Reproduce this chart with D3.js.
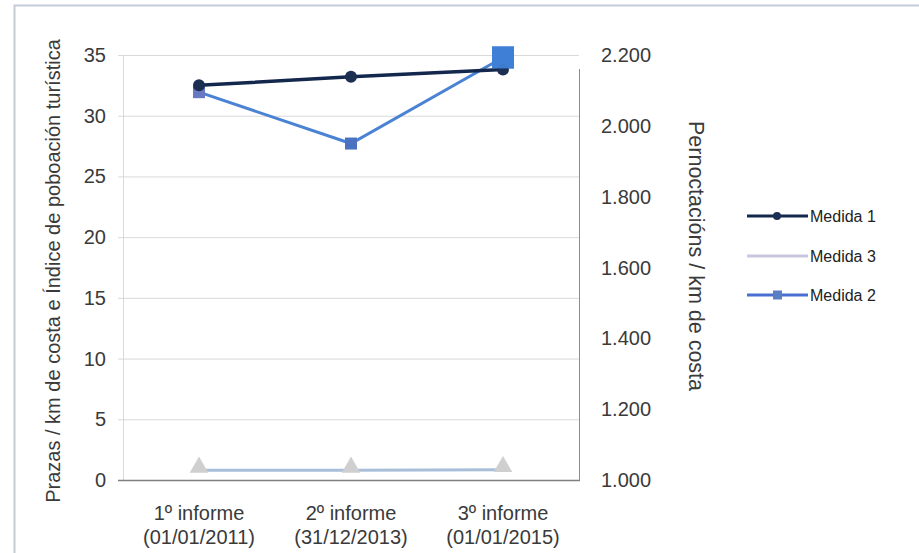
<!DOCTYPE html>
<html><head><meta charset="utf-8">
<script src="https://cdn.jsdelivr.net/npm/d3@7"></script>
<style>body{margin:0;background:#fff;}svg{display:block;font-family:"Liberation Sans",Arial,sans-serif;}</style>
</head><body>
<svg id="c" width="919" height="553"></svg>
<script>
const categories = [["1º informe","(01/01/2011)"],["2º informe","(31/12/2013)"],["3º informe","(01/01/2015)"]];
const medida1 = [32.5, 33.2, 33.8];      // left axis
const medida3 = [0.8, 0.8, 0.85];        // left axis
const medida2 = [2095, 1950, 2193];      // right axis
const leftTicks = [0,5,10,15,20,25,30,35];
const rightTicks = [1000,1200,1400,1600,1800,2000,2200];
const legendItems = ["Medida 1","Medida 3","Medida 2"];

const svg = d3.select("#c");
const m = {l:123, r:579, t:55, b:480};
// outer frame
svg.append("rect").attr("x",14.5).attr("y",5.5).attr("width",1000).attr("height",600)
  .attr("fill","none").attr("stroke","#c4ccd8").attr("stroke-width",2);

const x = d3.scaleBand().domain(d3.range(3)).range([m.l,m.r]);
const yL = d3.scaleLinear().domain([0,35]).range([m.b,m.t]);
const yR = d3.scaleLinear().domain([1000,2200]).range([m.b,m.t]);
const cx = i => x(i)+x.bandwidth()/2;
const tc = "#3a3a3a";

// gridlines
svg.append("g").selectAll("line").data(leftTicks.filter(d=>d>0)).join("line")
  .attr("x1",m.l-5).attr("x2",m.r).attr("y1",d=>yL(d)+0.5).attr("y2",d=>yL(d)+0.5)
  .attr("stroke","#d9d9d9");
// left axis line (light)
svg.append("line").attr("x1",m.l+0.5).attr("x2",m.l+0.5).attr("y1",m.t).attr("y2",m.b).attr("stroke","#d9d9d9");
// right plot border
svg.append("line").attr("x1",m.r+0.5).attr("x2",m.r+0.5).attr("y1",m.t+14).attr("y2",m.b).attr("stroke","#8c8c8c");
// bottom axis
svg.append("line").attr("x1",m.l-5).attr("x2",m.r+1).attr("y1",m.b+0.5).attr("y2",m.b+0.5).attr("stroke","#808080").attr("stroke-width",1.3);

// left tick labels
svg.append("g").selectAll("text").data(leftTicks).join("text")
  .attr("x",106).attr("y",d=>yL(d)).attr("dy","0.35em").attr("text-anchor","end")
  .attr("font-size",20).attr("fill",tc).text(d=>d);
// right tick labels
const fmt = d => d3.format(",")(d).replace(/,/g,".");
svg.append("g").selectAll("text").data(rightTicks).join("text")
  .attr("x",601).attr("y",d=>yR(d)).attr("dy","0.35em").attr("text-anchor","start")
  .attr("font-size",20).attr("fill",tc).text(fmt);
// category labels
const cat = svg.append("g").selectAll("text").data(categories).join("text")
  .attr("text-anchor","middle").attr("font-size",20).attr("fill",tc);
cat.append("tspan").attr("x",(d,i)=>cx(i)).attr("y",520).text(d=>d[0]);
cat.append("tspan").attr("x",(d,i)=>cx(i)).attr("y",544).text(d=>d[1]);

// axis titles
svg.append("text").attr("transform","translate(60,271) rotate(-90)").attr("text-anchor","middle")
  .attr("font-size",20).attr("fill",tc).text("Prazas / km de costa e Índice de poboación turística");
svg.append("text").attr("transform","translate(689,256) rotate(90)").attr("text-anchor","middle")
  .attr("font-size",21.5).attr("fill",tc).text("Pernoctacións / km de costa");

const line = y => d3.line().x((d,i)=>cx(i)).y(d=>y(d));

// Medida 3
svg.append("path").datum(medida3).attr("d",line(yL)).attr("fill","none").attr("stroke","#a9bfd9").attr("stroke-width",3);
svg.append("g").selectAll("path").data(medida3).join("path")
  .attr("d",d3.symbol(d3.symbolTriangle,150)()).attr("transform",(d,i)=>`translate(${cx(i)},${yL(d)-3})`)
  .attr("fill","#cfcfcf");
// Medida 2
svg.append("path").datum(medida2).attr("d",line(yR)).attr("fill","none").attr("stroke","#4a82d4").attr("stroke-width",3);
svg.append("g").selectAll("rect").data(medida2).join("rect")
  .attr("x",(d,i)=>cx(i)-(i==2?11:6)).attr("y",(d,i)=>yR(d)-(i==2?11:6))
  .attr("width",(d,i)=>i==2?22:12).attr("height",(d,i)=>i==2?22:12)
  .attr("fill",(d,i)=>i==2?"#3f7fd6":i==0?"#6879c4":"#4a72c0");
// Medida 1
svg.append("path").datum(medida1).attr("d",line(yL)).attr("fill","none").attr("stroke","#14284e").attr("stroke-width",3.5);
svg.append("g").selectAll("circle").data(medida1).join("circle")
  .attr("cx",(d,i)=>cx(i)).attr("cy",d=>yL(d)).attr("r",6).attr("fill","#1c2e52");
// big square of Medida 2 drawn on top (it covers Medida 1 in reference)
svg.append("rect").attr("x",cx(2)-11).attr("y",yR(medida2[2])-11).attr("width",22).attr("height",22).attr("fill","#3f7fd6").attr("opacity",0.95);

// legend
const lg = svg.append("g").attr("transform","translate(747,0)");
const ly = [216,256,295];
const lcol = ["#14284e","#c9c7e0","#4a6fd0"];
legendItems.forEach((t,i)=>{
  lg.append("line").attr("x1",0).attr("x2",61).attr("y1",ly[i]).attr("y2",ly[i]).attr("stroke",lcol[i]).attr("stroke-width",3);
  if(i===0) lg.append("circle").attr("cx",30).attr("cy",ly[i]).attr("r",4).attr("fill","#1c2e52");
  if(i===2) lg.append("rect").attr("x",26).attr("y",ly[i]-4.5).attr("width",9).attr("height",9).attr("fill","#5a7ec4");
  lg.append("text").attr("x",63).attr("y",ly[i]).attr("dy","0.35em").attr("font-size",16).attr("fill","#222").text(t);
});
</script>
</body></html>
